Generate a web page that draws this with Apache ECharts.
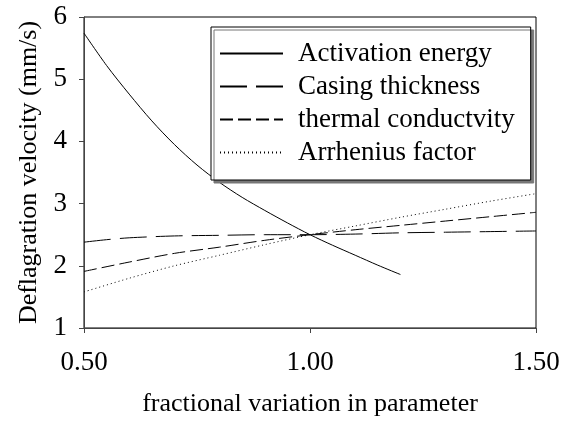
<!DOCTYPE html>
<html>
<head>
<meta charset="utf-8">
<script src="https://cdn.jsdelivr.net/npm/echarts@6/dist/echarts.min.js"></script>
<style>
  html, body { margin: 0; padding: 0; background: #fff; }
  #main { width: 568px; height: 422px; }
</style>
</head>
<body>
<div id="main"></div>
<script>
  // values
  var activationX = [0.50, 0.55, 0.60, 0.65, 0.70, 0.75, 0.80, 0.85, 0.90, 0.95, 1.00, 1.05, 1.10, 1.15, 1.20];
  var activationY = [5.74, 5.22, 4.76, 4.33, 3.95, 3.62, 3.34, 3.10, 2.89, 2.69, 2.50, 2.33, 2.17, 2.01, 1.86];

  var casingX = [0.50, 0.55, 0.60, 0.70, 0.80, 0.90, 1.00, 1.10, 1.20, 1.30, 1.40, 1.50];
  var casingY = [2.38, 2.42, 2.45, 2.48, 2.49, 2.50, 2.50, 2.51, 2.53, 2.54, 2.55, 2.56];

  var thermalX = [0.50, 0.60, 0.70, 0.80, 0.90, 1.00, 1.10, 1.20, 1.30, 1.40, 1.50];
  var thermalY = [1.91, 2.06, 2.20, 2.30, 2.41, 2.50, 2.58, 2.65, 2.72, 2.79, 2.86];

  var arrheniusX = [0.50, 0.60, 0.70, 0.80, 0.90, 1.00, 1.10, 1.20, 1.30, 1.40, 1.50];
  var arrheniusY = [1.58, 1.80, 2.00, 2.17, 2.34, 2.50, 2.64, 2.78, 2.91, 3.04, 3.16];

  var seriesNames = ['Activation energy', 'Casing thickness', 'thermal conductvity', 'Arrhenius factor'];
  var xTicks = [0.5, 1.0, 1.5];

  function pairs(xs, ys) {
    var out = [];
    for (var i = 0; i < xs.length; i++) {
      out.push([xs[i], ys[i]]);
    }
    return out;
  }

  var font = 'Liberation Serif';

  function lineSeries(name, data, dash) {
    return {
      name: name,
      type: 'line',
      symbol: 'none',
      smooth: 0.3,
      data: data,
      lineStyle: { color: '#000', width: 1, type: dash },
      itemStyle: { color: '#000' }
    };
  }

  var myChart = echarts.init(document.getElementById('main'));
  var option = {
    backgroundColor: '#fff',
    animation: false,
    textStyle: { fontFamily: font, color: '#000' },
    grid: {
      left: 84, right: 32, top: 17, bottom: 88,
      show: true, borderColor: '#000', borderWidth: 1
    },
    legend: {
      data: seriesNames,
      orient: 'vertical',
      left: 211, top: 27,
      itemWidth: 63, itemHeight: 20, itemGap: 6,
      padding: [13, 16, 14, 8],
      backgroundColor: '#fff',
      borderColor: '#000', borderWidth: 1,
      shadowColor: '#777', shadowOffsetX: 3, shadowOffsetY: 3, shadowBlur: 0,
      // hide the round marker, keep only the line sample
      itemStyle: { color: 'rgba(0,0,0,0)', borderColor: 'rgba(0,0,0,0)', borderWidth: 0 },
      textStyle: { fontFamily: font, fontSize: 27, color: '#000', padding: [0, 0, 0, 10] }
    },
    xAxis: {
      type: 'value',
      min: xTicks[0], max: xTicks[xTicks.length - 1], interval: 0.5,
      name: 'fractional variation in parameter',
      nameLocation: 'middle', nameGap: 63,
      nameTextStyle: { fontFamily: font, fontSize: 26, color: '#000' },
      axisLine: { lineStyle: { color: '#444', width: 1 } },
      axisTick: { lineStyle: { color: '#444' }, length: 5 },
      splitLine: { show: false },
      axisLabel: {
        margin: 21, fontFamily: font, fontSize: 27, color: '#000',
        formatter: function (v) { return v.toFixed(2); }
      }
    },
    yAxis: {
      type: 'value',
      min: 1, max: 6, interval: 1,
      name: 'Deflagration velocity (mm/s)',
      nameLocation: 'middle', nameGap: 41,
      nameTextStyle: { fontFamily: font, fontSize: 26, color: '#000' },
      axisLine: { show: true, lineStyle: { color: '#444', width: 1 } },
      axisTick: { show: true, lineStyle: { color: '#444' }, length: 5 },
      splitLine: { show: false },
      axisLabel: { margin: 17, fontFamily: font, fontSize: 27, color: '#000' }
    },
    series: [
      lineSeries(seriesNames[0], pairs(activationX, activationY), 'solid'),
      lineSeries(seriesNames[1], pairs(casingX, casingY), [27, 9]),
      lineSeries(seriesNames[2], pairs(thermalX, thermalY), [13, 5]),
      lineSeries(seriesNames[3], pairs(arrheniusX, arrheniusY), [1, 3])
    ]
  };
  myChart.setOption(option);
</script>
</body>
</html>
